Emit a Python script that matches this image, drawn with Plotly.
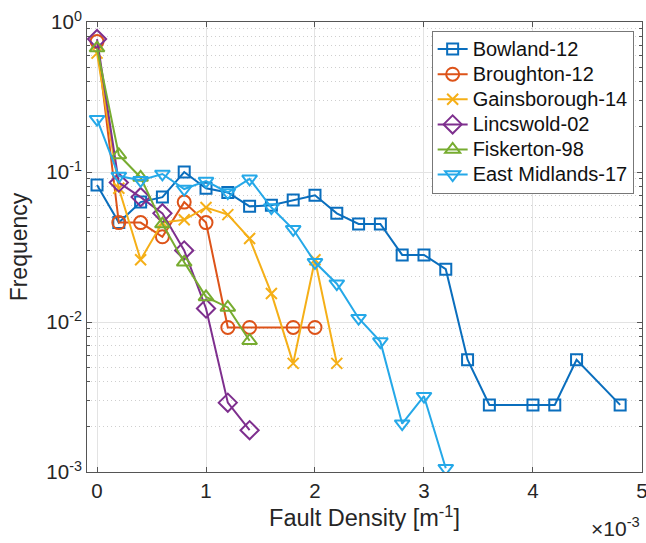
import plotly.graph_objects as go

# ---- data (fault density in units of 1e-3 m^-1) ----
bowland_x = [0, 0.2, 0.4, 0.6, 0.8, 1.0, 1.2, 1.4, 1.6, 1.8, 2.0, 2.2, 2.4, 2.6, 2.8, 3.0, 3.2, 3.4, 3.6, 4.0, 4.2, 4.4, 4.8]
bowland_y = [0.082, 0.046, 0.063, 0.068, 0.10, 0.078, 0.073, 0.059, 0.060, 0.065, 0.070, 0.053, 0.045, 0.045, 0.028, 0.028, 0.0225, 0.0056, 0.0028, 0.0028, 0.0028, 0.0056, 0.0028]

broughton_x = [0, 0.2, 0.4, 0.6, 0.8, 1.0, 1.2, 1.4, 1.8, 2.0]
broughton_y = [0.74, 0.046, 0.046, 0.037, 0.063, 0.046, 0.0092, 0.0092, 0.0092, 0.0092]

gains_x = [0, 0.2, 0.4, 0.6, 0.8, 1.0, 1.2, 1.4, 1.6, 1.8, 2.0, 2.2]
gains_y = [0.62, 0.078, 0.026, 0.046, 0.048, 0.058, 0.052, 0.036, 0.0155, 0.0053, 0.026, 0.0053]

lincs_x = [0, 0.2, 0.4, 0.6, 0.8, 1.0, 1.2, 1.4]
lincs_y = [0.77, 0.085, 0.068, 0.053, 0.030, 0.0123, 0.0029, 0.0019]

fisk_x = [0, 0.2, 0.4, 0.6, 0.8, 1.0, 1.2, 1.4]
fisk_y = [0.67, 0.13, 0.092, 0.045, 0.025, 0.0147, 0.0125, 0.0075]

em_x = [0, 0.2, 0.4, 0.6, 0.8, 1.0, 1.2, 1.4, 1.6, 1.8, 2.0, 2.2, 2.4, 2.6, 2.8, 3.0, 3.2]
em_y = [0.225, 0.094, 0.088, 0.097, 0.077, 0.087, 0.073, 0.090, 0.058, 0.0415, 0.025, 0.018, 0.0106, 0.0074, 0.0021, 0.0032, 0.00106]

x_ticks = [0, 1, 2, 3, 4, 5]
y_ticks = [0.001, 0.01, 0.1, 1]
y_ticktext = ["10<sup>-3</sup>", "10<sup>-2</sup>", "10<sup>-1</sup>", "10<sup>0</sup>"]
y_minor = [m * 10.0 ** e for e in (-3, -2, -1) for m in range(2, 10)]

series = [
    ("Bowland-12", bowland_x, bowland_y, "#0A6EBD", "square-open", 11),
    ("Broughton-12", broughton_x, broughton_y, "#DD5319", "circle-open", 13),
    ("Gainsborough-14", gains_x, gains_y, "#F5AF17", "x-thin-open", 11),
    ("Lincswold-02", lincs_x, lincs_y, "#7E2F8E", "diamond-open", 14),
    ("Fiskerton-98", fisk_x, fisk_y, "#77AC30", "triangle-up-open", 13),
    ("East Midlands-17", em_x, em_y, "#25A8E8", "triangle-down-open", 13),
]

FONT = "Liberation Sans, Arial, Helvetica, sans-serif"
fig = go.Figure()
for name, xs, ys, col, sym, sz in series:
    fig.add_trace(go.Scatter(
        x=xs, y=ys, mode="lines+markers",
        name='<span style="font-size:20px">' + name + "</span>",
        line=dict(color=col, width=2),
        marker=dict(symbol=sym, size=sz, color=col, line=dict(color=col, width=2)),
    ))

axis_common = dict(
    showline=True, linecolor="#555", linewidth=1, mirror="ticks",
    ticks="inside", ticklen=5, tickcolor="#555",
    showgrid=True, gridcolor="#E3E3E3", gridwidth=1, zeroline=False,
    tickfont=dict(family=FONT, size=20.5, color="#262626"),
    automargin=False,
)

fig.update_layout(
    width=646, height=543,
    margin=dict(l=87, r=4, t=22, b=71),
    paper_bgcolor="white", plot_bgcolor="white",
    font=dict(family=FONT, color="#262626"),
    xaxis=dict(
        range=[-0.092, 5.0005], tickvals=x_ticks, ticktext=[str(v) for v in x_ticks],
        ticklabeloverflow="allow",
        title=dict(text="Fault Density [m<sup>-1</sup>]", font=dict(family=FONT, size=23.5), standoff=6),
        **axis_common,
    ),
    yaxis=dict(
        type="log", range=[-3, 0], tickvals=y_ticks, ticktext=y_ticktext,
        title=dict(text="Frequency", font=dict(family=FONT, size=23), standoff=12),
        minor=dict(tickvals=y_minor, ticks="inside", ticklen=3, tickcolor="#555",
                   showgrid=True, gridcolor="#CFCFCF", griddash="1px,3px", gridwidth=1),
        **axis_common,
    ),
    legend=dict(
        x=0.621, y=0.981, xanchor="left", yanchor="top",
        bgcolor="white", bordercolor="#777", borderwidth=1,
        font=dict(family=FONT, size=17, color="#111"),
        tracegroupgap=0,
    ),
    showlegend=True,
)

fig.add_annotation(
    x=1.0, y=0, xref="paper", yref="paper", xanchor="right", yanchor="top",
    yshift=-40, showarrow=False,
    text="×10<sup>-3</sup>", font=dict(family=FONT, size=21, color="#262626"),
)

fig.write_html("out.html")
